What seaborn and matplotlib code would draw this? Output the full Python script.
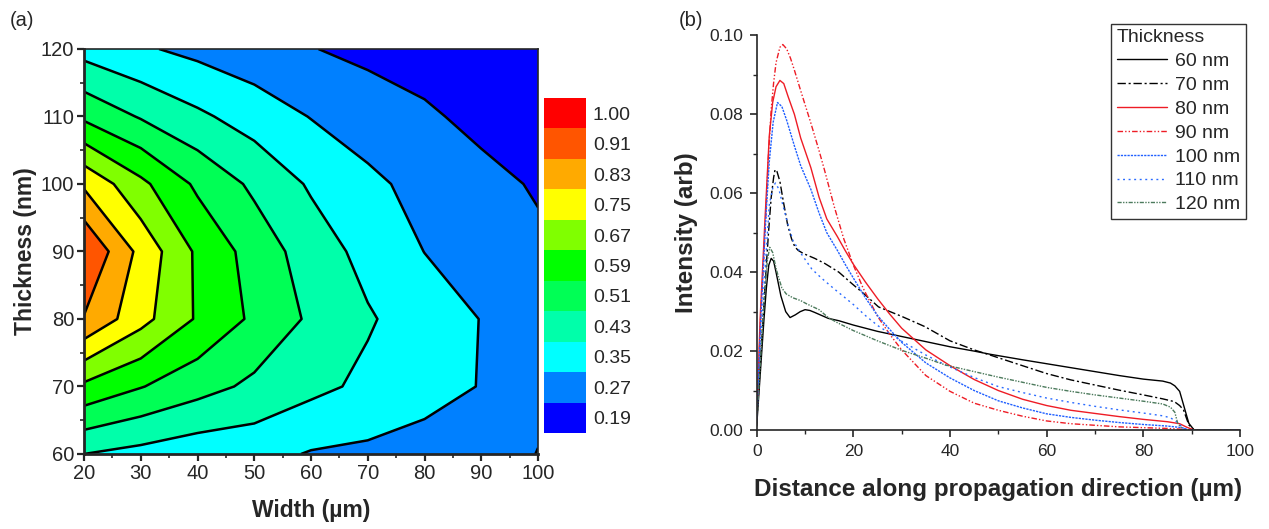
import numpy as np
import pandas as pd
import matplotlib
matplotlib.use("Agg")
import matplotlib.pyplot as plt
from matplotlib.colors import ListedColormap, BoundaryNorm
from matplotlib.cm import ScalarMappable
from matplotlib.ticker import MultipleLocator
import seaborn as sns

# ---------------- (a) normalised intensity vs. width and thickness ----------------
widths = [20, 30, 40, 50, 60, 70, 80, 90, 100]
thicknesses = [60, 70, 80, 90, 100, 110, 120]
t60 = [0.430, 0.405, 0.380, 0.378, 0.344, 0.334, 0.320, 0.310, 0.352]
t70 = [0.654, 0.594, 0.541, 0.493, 0.451, 0.413, 0.378, 0.347, 0.330]
t80 = [0.905, 0.777, 0.661, 0.575, 0.497, 0.438, 0.391, 0.348, 0.315]
t90 = [0.990, 0.806, 0.656, 0.557, 0.471, 0.405, 0.349, 0.318, 0.285]
t100 = [0.817, 0.689, 0.575, 0.494, 0.420, 0.366, 0.327, 0.293, 0.262]
t110 = [0.574, 0.503, 0.445, 0.394, 0.347, 0.314, 0.282, 0.249, 0.235]
t120 = [0.400, 0.360, 0.329, 0.301, 0.273, 0.250, 0.235, 0.220, 0.205]

level_values = [0.19, 0.27, 0.35, 0.43, 0.51, 0.59, 0.67, 0.75, 0.83, 0.91, 1.00]
level_labels = ["0.19", "0.27", "0.35", "0.43", "0.51", "0.59", "0.67", "0.75", "0.83", "0.91", "1.00"]
level_colors = ["#0000ff", "#0080ff", "#00ffff", "#00ffaa", "#00ff55", "#00ff00",
                "#80ff00", "#ffff00", "#ffaa00", "#ff5500", "#ff0000"]

# ---------------- (b) intensity profiles along the propagation direction ----------------
dist_60 = [0, 0.5, 1.0, 1.5, 2.0, 2.5, 3.0, 3.5, 4.0, 5.0, 6.0, 6.9, 8.0, 9.0, 10.0, 11.0, 12.0, 14.8, 17.0, 20,
           25, 30, 35, 40, 45, 48.3, 55, 60, 65, 70, 75, 80, 84, 85.6, 86.5, 87.5, 88.3, 89.4, 90.5, 100]
int_60 = [0.001, 0.010, 0.019, 0.028, 0.036, 0.0418, 0.0435, 0.0428, 0.040, 0.034, 0.030, 0.0285, 0.0292, 0.0300,
          0.0305, 0.0303, 0.0298, 0.0283, 0.0277, 0.0266, 0.0250, 0.0237, 0.0224, 0.0211, 0.0200, 0.0192, 0.0178,
          0.0168, 0.0158, 0.0148, 0.0138, 0.0129, 0.0124, 0.0119, 0.0112, 0.0098, 0.0064, 0.0017, 0.0, 0.0]

dist_70 = [0, 0.5, 1.0, 1.5, 2.0, 2.5, 3.0, 3.5, 3.8, 4.2, 4.8, 5.5, 6.4, 7.2, 7.9, 8.6, 9.7, 12.0, 14.1, 17.0,
           19.7, 22.5, 25.2, 30, 34.8, 40, 45, 48.3, 55, 60, 65, 70, 75, 80, 84, 86.4, 87.5, 88.3, 89.4, 90.5, 100]
int_70 = [0.002, 0.012, 0.022, 0.032, 0.042, 0.051, 0.059, 0.064, 0.066, 0.0655, 0.063, 0.058, 0.052, 0.0485,
          0.0464, 0.0455, 0.0447, 0.0435, 0.0422, 0.0400, 0.0371, 0.0342, 0.0312, 0.0288, 0.0262, 0.0226, 0.0203,
          0.0190, 0.0163, 0.0143, 0.0127, 0.0114, 0.0101, 0.0089, 0.0079, 0.0072, 0.0062, 0.0051, 0.0013, 0.0, 0.0]

dist_80 = [0, 0.7, 1.7, 2.6, 3.3, 4.0, 4.8, 5.6, 6.5, 7.8, 9.1, 11.2, 12.9, 14.5, 16.7, 18.3, 20, 22.5, 25, 27.5,
           30, 35, 40, 45, 50, 55, 60, 65, 70, 75, 80, 85, 87.5, 89, 90.5, 100]
int_80 = [0.002, 0.028, 0.053, 0.0745, 0.083, 0.087, 0.0886, 0.0878, 0.0845, 0.080, 0.074, 0.0665, 0.059, 0.0535,
          0.049, 0.0455, 0.042, 0.0375, 0.0333, 0.0294, 0.0258, 0.0203, 0.0163, 0.0128, 0.0100, 0.0078, 0.0062,
          0.0050, 0.0042, 0.0034, 0.0027, 0.0021, 0.0016, 0.0007, 0.0, 0.0]

dist_90 = [0, 0.8, 1.8, 2.4, 3.0, 3.5, 4.0, 4.8, 5.4, 6.2, 7.0, 7.8, 9.1, 11.2, 12.9, 14.0, 16.0, 18.0, 20, 22,
           25, 27.5, 30, 35, 40, 45, 50, 55, 60, 65, 70, 75, 80, 85, 88, 89.5, 100]
int_90 = [0.002, 0.028, 0.052, 0.0688, 0.0813, 0.088, 0.0931, 0.0970, 0.0977, 0.0966, 0.0942, 0.0912, 0.0860,
          0.0778, 0.0708, 0.0660, 0.0568, 0.0485, 0.0418, 0.0360, 0.0288, 0.0243, 0.0203, 0.0138, 0.0098, 0.0068,
          0.0050, 0.0035, 0.0023, 0.0016, 0.0012, 0.0008, 0.0006, 0.0004, 0.0002, 0.0, 0.0]

dist_100 = [0, 0.8, 1.8, 2.6, 3.4, 4.3, 5.2, 6.2, 7.8, 9.1, 11.2, 12.9, 14.5, 16.7, 18.3, 20, 22.5, 25, 27.5, 30,
            35, 40, 45, 50, 55, 60, 65, 70, 75, 80, 85, 88, 89.4, 100]
int_100 = [0.002, 0.027, 0.052, 0.068, 0.078, 0.083, 0.082, 0.0785, 0.072, 0.067, 0.061, 0.055, 0.050, 0.0455,
           0.042, 0.0385, 0.0335, 0.029, 0.0255, 0.0222, 0.0170, 0.0132, 0.0100, 0.0074, 0.0056, 0.0041, 0.0032,
           0.0025, 0.0019, 0.0014, 0.0010, 0.0006, 0.0, 0.0]

dist_110 = [0, 0.8, 1.8, 2.6, 3.4, 3.9, 4.6, 5.2, 6.4, 7.5, 9.3, 11.4, 13.4, 16, 18.3, 20, 22.5, 25, 30, 35,
            39, 45, 50, 55, 60, 65, 70, 75, 80, 84, 85.6, 87, 87.9, 89, 100]
int_110 = [0.002, 0.022, 0.042, 0.057, 0.0618, 0.0626, 0.061, 0.058, 0.0524, 0.048, 0.0445, 0.0408, 0.0385,
           0.0358, 0.0335, 0.0318, 0.029, 0.0265, 0.0225, 0.0190, 0.0165, 0.0133, 0.0110, 0.0095, 0.0081, 0.0070,
           0.0060, 0.0051, 0.0043, 0.0036, 0.0031, 0.0020, 0.0009, 0.0, 0.0]

dist_120 = [0, 0.8, 1.6, 2.2, 2.7, 3.3, 4.0, 4.5, 5.2, 6.1, 7.5, 9.1, 10.3, 12.9, 14.8, 16.7, 20, 25, 30, 35,
            39, 45, 50, 55, 60, 65, 70, 75, 80, 84, 85.6, 86.5, 87.1, 88.3, 100]
int_120 = [0.002, 0.018, 0.034, 0.043, 0.0463, 0.045, 0.041, 0.0388, 0.036, 0.0345, 0.0335, 0.0328, 0.032,
           0.0305, 0.0285, 0.0272, 0.0252, 0.0226, 0.0202, 0.0182, 0.0165, 0.0148, 0.0134, 0.0121, 0.0108, 0.0098,
           0.0089, 0.0081, 0.0073, 0.0066, 0.0058, 0.0045, 0.0017, 0.0, 0.0]

series_names = ["60 nm", "70 nm", "80 nm", "90 nm", "100 nm", "110 nm", "120 nm"]
series_dist = [dist_60, dist_70, dist_80, dist_90, dist_100, dist_110, dist_120]
series_int = [int_60, int_70, int_80, int_90, int_100, int_110, int_120]
series_colors = ["#000000", "#000000", "#ee1c25", "#ee1c25", "#1f5fff", "#2a6bff", "#4c7a5c"]
series_dashes = ["", (6, 2, 1.5, 2), "", (4, 1.5, 1, 1.5, 1, 1.5), (1.6, 0.8), (1.4, 2.6), (3, 1, 1, 1, 1, 1)]

# ---------------- styling ----------------
sns.set_theme(style="ticks")
plt.rcParams["font.family"] = ["Liberation Sans", "DejaVu Sans"]
plt.rcParams["axes.linewidth"] = 1.2

fig = plt.figure(figsize=(12.69, 5.29), dpi=100)

# ---- panel (a) ----
ax1 = fig.add_axes([0.0662, 0.1418, 0.3578, 0.7656])
W, T = np.meshgrid(widths, thicknesses)
Z = np.array([t60, t70, t80, t90, t100, t110, t120])
fill_levels = level_values + [1.10]
ax1.contourf(W, T, Z, levels=fill_levels, colors=level_colors)
ax1.contour(W, T, Z, levels=level_values[1:-1], colors="black", linewidths=1.8)
ax1.set_xlim(20, 100)
ax1.set_ylim(60, 120)
ax1.xaxis.set_major_locator(MultipleLocator(10))
ax1.xaxis.set_minor_locator(MultipleLocator(5))
ax1.yaxis.set_major_locator(MultipleLocator(10))
ax1.yaxis.set_minor_locator(MultipleLocator(5))
ax1.tick_params(which="major", direction="out", length=5, width=1.6, labelsize=14.5, pad=2,
                top=False, right=False)
ax1.tick_params(which="minor", direction="out", length=3, width=1.2, top=False, right=False)
for side in ["left", "bottom"]:
    ax1.spines[side].set_linewidth(2.0)
for side in ["top", "right"]:
    ax1.spines[side].set_linewidth(1.2)
ax1.set_xlabel("Width (µm)", fontsize=16.5, fontweight="bold", labelpad=12)
ax1.set_ylabel("Thickness (nm)", fontsize=16.5, fontweight="bold", labelpad=3)

# discrete colour key
cax = fig.add_axes([0.4287, 0.1815, 0.0331, 0.6333])
key_cmap = ListedColormap(level_colors)
key_norm = BoundaryNorm(np.arange(len(level_colors) + 1), len(level_colors))
cb = fig.colorbar(ScalarMappable(norm=key_norm, cmap=key_cmap), cax=cax,
                  ticks=np.arange(len(level_colors)) + 0.5)
cb.set_ticklabels(level_labels)
cb.outline.set_visible(False)
cax.minorticks_off()
cax.tick_params(which="both", length=0, labelsize=14, pad=5)

fig.text(0.008, 0.962, "(a)", fontsize=14.5, va="center", ha="left")

# ---- panel (b) ----
ax2 = fig.add_axes([0.5963, 0.1871, 0.3809, 0.7459])
frames = []
for name, d, v in zip(series_names, series_dist, series_int):
    frames.append(pd.DataFrame({"Distance": d, "Intensity": v, "Thickness": name}))
profiles = pd.concat(frames, ignore_index=True)

sns.lineplot(data=profiles, x="Distance", y="Intensity", hue="Thickness", style="Thickness",
             hue_order=series_names, style_order=series_names,
             palette=dict(zip(series_names, series_colors)),
             dashes=dict(zip(series_names, series_dashes)),
             estimator=None, sort=False, linewidth=1.0, ax=ax2)

ax2.set_xlim(0, 100)
ax2.set_ylim(0, 0.10)
ax2.xaxis.set_major_locator(MultipleLocator(20))
ax2.xaxis.set_minor_locator(MultipleLocator(10))
ax2.yaxis.set_major_locator(MultipleLocator(0.02))
ax2.yaxis.set_minor_locator(MultipleLocator(0.01))
ax2.yaxis.set_major_formatter(plt.FormatStrFormatter("%.2f"))
ax2.tick_params(which="major", direction="out", length=5, width=1.2, labelsize=12.5, pad=5)
ax2.tick_params(which="minor", direction="out", length=3, width=1.0)
sns.despine(ax=ax2)
ax2.set_xlabel("Distance along propagation direction (µm)", fontsize=17.5, fontweight="bold", labelpad=14)
ax2.set_ylabel("Intensity (arb)", fontsize=17.5, fontweight="bold", labelpad=8)

handles, labels = ax2.get_legend_handles_labels()
leg = ax2.legend(handles, labels, title="Thickness", loc="upper right", bbox_to_anchor=(1.012, 1.03),
                 borderaxespad=0, fontsize=14, title_fontsize=14, frameon=True, fancybox=False,
                 edgecolor="#333333", framealpha=1, handlelength=2.6, handletextpad=0.4,
                 labelspacing=0.32, borderpad=0.3, alignment="left")
leg.get_frame().set_linewidth(1.0)

fig.text(0.535, 0.962, "(b)", fontsize=14.5, va="center", ha="left")

fig.savefig("out.png", dpi=100)
